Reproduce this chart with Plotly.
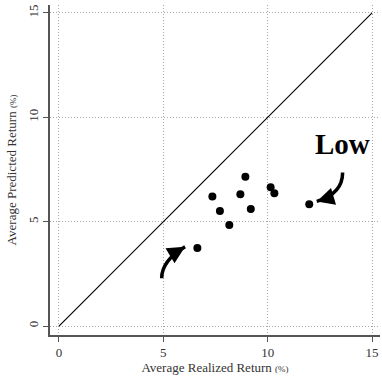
import plotly.graph_objects as go

# Data (average realized vs predicted returns, %)
realized = [6.63, 7.35, 7.71, 8.16, 8.69, 8.93, 9.19, 10.14, 10.32, 11.99]
predicted = [3.74, 6.20, 5.51, 4.84, 6.31, 7.15, 5.61, 6.65, 6.36, 5.83]

diag_x = [0, 15]
diag_y = [0, 15]

tick_vals = [0, 5, 10, 15]
tick_text = ["0", "5", "10", "15"]

# Curved arrow annotations: tail, control, tip (data units)
arrow1 = {"tail": (4.92, 2.29), "ctrl": (4.92, 3.13), "tip": (6.04, 3.80), "head": (-10, 6)}
arrow2 = {"tail": (13.59, 7.35), "ctrl": (13.59, 6.33), "tip": (12.35, 5.97), "head": (10, -3)}
label_text = "Low"
label_pos = (13.58, 8.72)

FONT = "Liberation Serif"

fig = go.Figure()
fig.add_trace(go.Scatter(x=diag_x, y=diag_y, mode="lines",
                         line=dict(color="black", width=1.1), hoverinfo="skip"))
fig.add_trace(go.Scatter(x=realized, y=predicted, mode="markers",
                         marker=dict(color="black", size=8, line=dict(width=0))))

for a in (arrow1, arrow2):
    (x0, y0), (cx, cy), (x1, y1) = a["tail"], a["ctrl"], a["tip"]
    fig.add_shape(type="path", xref="x", yref="y",
                  path=f"M {x0},{y0} Q {cx},{cy} {x1},{y1}",
                  line=dict(color="black", width=3.5))
    fig.add_annotation(x=x1, y=y1, xref="x", yref="y", text="",
                       showarrow=True, arrowhead=2, arrowsize=1.0, arrowwidth=3.5,
                       arrowcolor="black", ax=a["head"][0], ay=a["head"][1])

fig.add_annotation(x=label_pos[0], y=label_pos[1], xref="x", yref="y",
                   text=f"<b>{label_text}</b>", showarrow=False,
                   font=dict(family=FONT, size=29, color="black"))

axis_common = dict(
    tickvals=tick_vals, ticktext=tick_text,
    showgrid=True, gridcolor="#a8a8a8", griddash="1px,2px", gridwidth=1,
    zeroline=False, showline=True, linecolor="#555555", linewidth=1.5,
    ticks="outside", ticklen=5, tickcolor="#555555", tickwidth=1.2,
    tickfont=dict(family=FONT, size=13, color="#333333"),
    range=[-0.43, 15.38],
)

fig.update_xaxes(**axis_common,
                 title=dict(text="Average Realized Return <span style='font-size:9px'>(%)</span>",
                            font=dict(family=FONT, size=13, color="#333333"), standoff=2))
fig.update_yaxes(**axis_common, tickangle=-90,
                 title=dict(text="Average Predicted Return <span style='font-size:9px'>(%)</span>",
                            font=dict(family=FONT, size=13, color="#333333"), standoff=6))

fig.update_layout(
    width=382, height=382,
    margin=dict(l=50, r=2, t=5, b=47, autoexpand=False),
    plot_bgcolor="white", paper_bgcolor="white",
    showlegend=False,
)

fig.write_html("out.html", config={"displayModeBar": False},
               post_script="document.body.style.margin='0';")
